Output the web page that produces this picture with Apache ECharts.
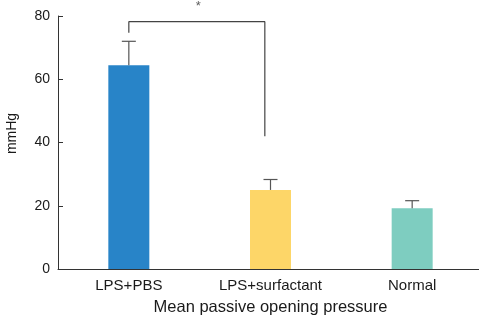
<!DOCTYPE html>
<html>
<head>
<meta charset="utf-8">
<script src="https://cdn.jsdelivr.net/npm/echarts@6/dist/echarts.min.js"></script>
<style>
  html, body { margin: 0; padding: 0; background: #fff; }
  #chart { width: 479px; height: 319px; }
</style>
</head>
<body>
<div id="chart"></div>
<script>
// data
var categories = ["LPS+PBS", "LPS+surfactant", "Normal"];
var means = [64.4, 25, 19.2];
var errTops = [72, 28.3, 21.6];
var barColors = ["#2884c8", "#fdd668", "#7ecdc0"];
var yTicks = [0, 20, 40, 60, 80];
// significance bracket (x in category units, y in mmHg)
var bracketX = [0, 0, 0.96, 0.96];
var bracketY = [74.7, 78.2, 78.2, 42];
var starPos = [0.49, 83];

var font = "Liberation Sans, Arial, Helvetica, sans-serif";
var myChart = echarts.init(document.getElementById("chart"));

var barData = means.map(function (v, i) {
  return { value: v, itemStyle: { color: barColors[i] } };
});
var errData = errTops.map(function (v, i) {
  return [i, means[i], v];
});
var bracketData = bracketX.map(function (x, i) {
  return [x, bracketY[i]];
});

var option = {
  animation: false,
  grid: { left: 58, right: -4, top: 16, bottom: 50, outerBoundsMode: "none" },
  xAxis: [
    {
      type: "category",
      data: categories,
      name: "Mean passive opening pressure",
      nameLocation: "middle",
      nameGap: 30,
      nameTextStyle: { fontFamily: font, fontSize: 16.5, color: "#1a1a1a" },
      axisLine: { lineStyle: { color: "#333", width: 1 } },
      axisTick: { show: false },
      axisLabel: { fontFamily: font, fontSize: 15, color: "#1a1a1a", margin: 9 },
    },
    { type: "value", min: -0.5, max: 2.5, show: false },
  ],
  yAxis: {
    type: "value",
    min: yTicks[0],
    max: yTicks[yTicks.length - 1],
    interval: 20,
    name: "mmHg",
    nameLocation: "middle",
    nameGap: 39,
    nameTextStyle: { fontFamily: font, fontSize: 14, color: "#1a1a1a", padding: [0, 0, 0, 18] },
    axisLine: { show: true, onZero: false, lineStyle: { color: "#333", width: 1 } },
    axisTick: { show: true, inside: true, length: 5, lineStyle: { color: "#333" } },
    axisLabel: { fontFamily: font, fontSize: 14, color: "#1a1a1a", margin: 8 },
    splitLine: { show: false },
  },
  series: [
    {
      type: "bar",
      data: barData,
      barWidth: 41,
    },
    {
      type: "custom",
      data: errData,
      z: 3,
      renderItem: function (params, api) {
        var base = api.coord([api.value(0), api.value(1)]);
        var top = api.coord([api.value(0), api.value(2)]);
        var half = 7;
        var st = { stroke: "#555", lineWidth: 1.2 };
        return {
          type: "group",
          children: [
            { type: "line", shape: { x1: base[0], y1: base[1], x2: top[0], y2: top[1] }, style: st },
            { type: "line", shape: { x1: top[0] - half, y1: top[1], x2: top[0] + half, y2: top[1] }, style: st },
          ],
        };
      },
    },
    {
      type: "line",
      xAxisIndex: 1,
      data: bracketData,
      symbol: "none",
      clip: false,
      lineStyle: { color: "#444", width: 1.2 },
    },
    {
      type: "scatter",
      xAxisIndex: 1,
      data: [starPos],
      symbolSize: 0,
      clip: false,
      label: {
        show: true,
        position: "inside",
        formatter: "*",
        fontFamily: font,
        fontSize: 13,
        color: "#333",
      },
    },
  ],
};

myChart.setOption(option);
</script>
</body>
</html>
